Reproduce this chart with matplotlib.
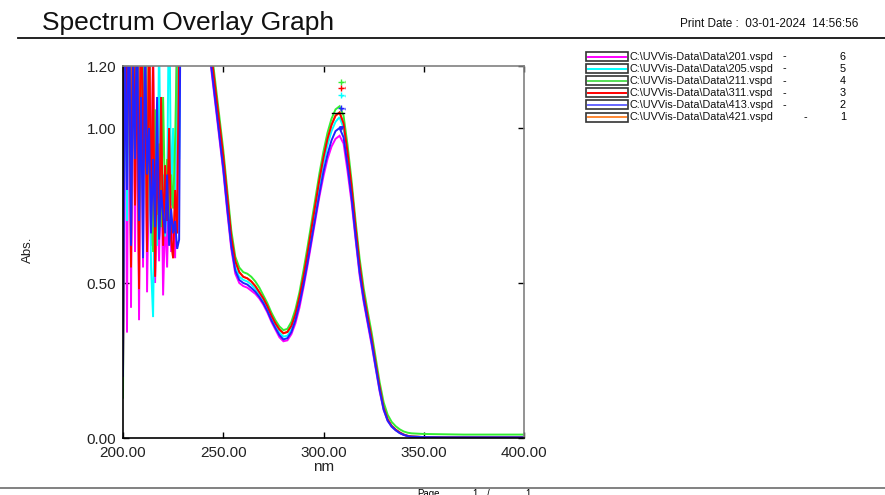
import matplotlib
matplotlib.use("Agg")
import matplotlib.pyplot as plt
from matplotlib.patches import Rectangle

plt.rcParams['font.family'] = ['Liberation Sans', 'DejaVu Sans']

# wavelength grid (nm)
wl = ([200, 201, 202, 203, 204, 205, 206, 207, 208, 209, 210, 211, 212, 213, 214,
       215, 216, 217, 218, 219, 220, 221, 222, 223, 224, 225, 226, 227, 228, 229]
      + [240, 242, 244, 246, 248, 250, 252, 254, 256, 258, 260, 262, 264, 266, 268,
         270, 272, 274, 276, 278, 280, 282, 284, 286, 288, 290, 292, 294, 296, 298,
         300, 302, 304, 306, 308, 310, 312, 314, 316, 318, 320, 322, 324, 326, 328,
         330, 332, 334, 336, 338, 340, 342, 344]
      + [350, 360, 370, 380, 390, 400])

# --- series (Abs) ---
s201 = ([0.90, 1.50, 0.34, 1.60, 0.42, 1.40, 0.60, 1.30, 0.38, 1.25, 0.55, 1.50, 0.47, 0.90, 0.62,
         1.30, 0.50, 0.80, 0.57, 1.00, 0.46, 0.72, 0.55, 0.85, 0.60, 0.70, 0.58, 1.40, 1.80, 2.00]
        + [1.42, 1.30, 1.19, 1.08, 0.97, 0.86, 0.73, 0.61, 0.53, 0.50, 0.49, 0.485, 0.475, 0.465, 0.45,
           0.43, 0.405, 0.375, 0.35, 0.325, 0.312, 0.315, 0.335, 0.37, 0.42, 0.485, 0.555, 0.63, 0.705, 0.78,
           0.845, 0.90, 0.94, 0.965, 0.975, 0.95, 0.86, 0.76, 0.64, 0.525, 0.44, 0.37, 0.30, 0.225, 0.15,
           0.09, 0.055, 0.036, 0.025, 0.016, 0.010, 0.006, 0.004]
        + [0.003, 0.002, 0.002, 0.002, 0.002, 0.002])

s205 = ([0.54, 1.40, 0.70, 1.50, 0.65, 1.30, 0.80, 1.60, 0.60, 1.20, 0.75, 1.40, 0.66, 1.10, 0.55,
         0.39, 0.90, 0.62, 1.30, 0.70, 0.85, 0.65, 0.78, 1.50, 0.75, 1.00, 0.80, 1.20, 0.90, 1.60]
        + [1.47, 1.35, 1.22, 1.11, 1.00, 0.89, 0.76, 0.63, 0.55, 0.52, 0.51, 0.505, 0.495, 0.48, 0.46,
           0.44, 0.415, 0.385, 0.36, 0.34, 0.327, 0.33, 0.35, 0.39, 0.445, 0.51, 0.58, 0.66, 0.74, 0.815,
           0.885, 0.945, 0.99, 1.02, 1.035, 1.00, 0.90, 0.79, 0.665, 0.545, 0.455, 0.385, 0.315, 0.235, 0.16,
           0.095, 0.058, 0.038, 0.026, 0.017, 0.011, 0.007, 0.005]
        + [0.003, 0.002, 0.002, 0.002, 0.002, 0.002])

s211 = ([0.13, 1.40, 0.85, 1.60, 0.70, 1.30, 0.95, 1.50, 0.75, 1.20, 0.88, 1.40, 0.66, 1.30, 0.80,
         0.60, 1.06, 0.72, 0.95, 0.68, 1.10, 0.75, 0.90, 0.70, 0.85, 0.74, 0.96, 1.30, 1.60, 2.00]
        + [1.52, 1.39, 1.26, 1.15, 1.04, 0.93, 0.80, 0.67, 0.585, 0.55, 0.535, 0.53, 0.52, 0.505, 0.485,
           0.46, 0.435, 0.405, 0.38, 0.36, 0.348, 0.352, 0.375, 0.415, 0.47, 0.54, 0.615, 0.695, 0.775, 0.855,
           0.925, 0.985, 1.03, 1.06, 1.07, 1.04, 0.945, 0.83, 0.70, 0.58, 0.485, 0.41, 0.34, 0.26, 0.18,
           0.115, 0.075, 0.052, 0.038, 0.028, 0.021, 0.017, 0.015]
        + [0.013, 0.012, 0.011, 0.011, 0.011, 0.011])

s311 = ([0.20, 1.60, 0.90, 1.40, 0.55, 1.50, 0.75, 1.30, 0.48, 1.60, 0.85, 1.20, 0.60, 1.40, 0.70,
         1.20, 0.52, 0.95, 0.65, 1.10, 0.62, 0.88, 0.70, 1.00, 0.64, 0.58, 0.80, 0.66, 1.30, 1.80]
        + [1.49, 1.37, 1.24, 1.13, 1.02, 0.91, 0.78, 0.65, 0.57, 0.535, 0.52, 0.515, 0.505, 0.49, 0.47,
           0.45, 0.425, 0.395, 0.37, 0.35, 0.338, 0.342, 0.362, 0.40, 0.455, 0.52, 0.595, 0.675, 0.755, 0.835,
           0.905, 0.965, 1.01, 1.04, 1.05, 1.015, 0.92, 0.81, 0.68, 0.56, 0.465, 0.393, 0.322, 0.242, 0.165,
           0.098, 0.060, 0.039, 0.027, 0.018, 0.011, 0.007, 0.005]
        + [0.003, 0.002, 0.002, 0.002, 0.002, 0.002])

s413 = ([0.20, 1.30, 0.80, 1.50, 0.62, 1.20, 0.90, 1.40, 0.70, 1.10, 0.58, 1.30, 0.85, 1.00, 0.66,
         0.90, 0.68, 1.10, 0.64, 0.80, 0.72, 0.66, 0.85, 0.62, 0.74, 0.66, 0.70, 0.61, 0.64, 1.80]
        + [1.44, 1.32, 1.20, 1.09, 0.98, 0.87, 0.74, 0.62, 0.54, 0.51, 0.50, 0.495, 0.484, 0.472, 0.455,
           0.435, 0.41, 0.38, 0.355, 0.332, 0.318, 0.322, 0.342, 0.38, 0.432, 0.495, 0.565, 0.64, 0.715, 0.79,
           0.86, 0.915, 0.96, 0.99, 1.00, 0.97, 0.88, 0.775, 0.65, 0.535, 0.448, 0.377, 0.308, 0.23, 0.155,
           0.092, 0.056, 0.037, 0.025, 0.016, 0.010, 0.006, 0.004]
        + [0.003, 0.002, 0.002, 0.002, 0.002, 0.002])

s421 = list(s311)

files = ["C:\\UVVis-Data\\Data\\201.vspd", "C:\\UVVis-Data\\Data\\205.vspd",
         "C:\\UVVis-Data\\Data\\211.vspd", "C:\\UVVis-Data\\Data\\311.vspd",
         "C:\\UVVis-Data\\Data\\413.vspd", "C:\\UVVis-Data\\Data\\421.vspd"]
numbers = ["6", "5", "4", "3", "2", "1"]
colors = ["#FF00FF", "#00FFFF", "#33EE33", "#FF0000", "#2222FF", "#FF8C1A"]
legend_colors = ["#FF00FF", "#00FFFF", "#55DD55", "#FF0000", "#6666FF", "#FF8833"]
series = [s201, s205, s211, s311, s413, s421]

# peak-pick labels
peak_nm = [308.5, 308.5, 308.5, 308.5]
peak_lab = [1.15, 1.13, 1.105, 1.065]
peak_col = ["#33EE33", "#FF0000", "#00FFFF", "#2222FF"]

W, H = 885, 495
fig = plt.figure(figsize=(W / 100, H / 100), dpi=100)
ax = fig.add_axes([123 / W, 1 - 438 / H, (524 - 123) / W, (438 - 66) / H])

order = [5, 0, 1, 2, 3, 4]
for i in order:
    ax.plot(wl, series[i], color=colors[i], lw=1.4, solid_joinstyle='miter')

for x, y, c in zip(peak_nm, peak_lab, peak_col):
    ax.plot([x], [y], marker='+', color=c, ms=4.5, mew=1.0)
    ax.text(x + 1.0, y, "1", color=c, fontsize=4.5, rotation=90, va='center', ha='left')
ax.plot([304, 310], [1.048, 1.048], color='black', lw=1.0)
ax.plot([308.5], [1.0], marker='v', color='#2222FF', ms=2.5)

ax.set_xlim(200, 400)
ax.set_ylim(0, 1.2)
ax.set_xticks([200, 250, 300, 350, 400])
ax.set_xticklabels(["200.00", "250.00", "300.00", "350.00", "400.00"])
ax.set_yticks([0, 0.5, 1.0, 1.2])
ax.set_yticklabels(["0.00", "0.50", "1.00", "1.20"])
ax.tick_params(direction='in', length=4, width=1, labelsize=11, colors='black',
               top=True, right=True, labelcolor='#222222')
ax.tick_params(axis='x', pad=6)
ax.tick_params(axis='y', pad=5)
for s in ['left', 'bottom']:
    ax.spines[s].set_color('black')
    ax.spines[s].set_linewidth(1.2)
for s in ['top', 'right']:
    ax.spines[s].set_color('#808080')
    ax.spines[s].set_linewidth(1.2)
ax.set_xlabel("nm", fontsize=11, labelpad=0, color='#222222')

# overlay in pixel coordinates
ov = fig.add_axes([0, 0, 1, 1], zorder=-1)
ov.set_xlim(0, W)
ov.set_ylim(H, 0)
ov.axis('off')

ov.text(42, 30, "Spectrum Overlay Graph", fontsize=19, va='baseline', ha='left', color='#111111')
ov.text(680, 27, "Print Date :  03-01-2024  14:56:56", fontsize=8.5, va='baseline', ha='left', color='#111111')
ov.plot([18, 885], [37.5, 37.5], color='#111111', lw=1.3)
ov.plot([0, 885], [487.5, 487.5], color='#777777', lw=1.3)
ov.text(417, 489, "Page", fontsize=7, va='top', ha='left')
ov.text(472, 489, "1", fontsize=7, va='top', ha='left')
ov.text(487, 489, "/", fontsize=7, va='top', ha='left')
ov.text(525, 489, "1", fontsize=7, va='top', ha='left')
ov.text(28, 250, "Abs.", fontsize=9.5, rotation=90, va='center', ha='center', color='#222222')

for i in range(6):
    yc = 56.5 + i * 12.1
    ov.add_patch(Rectangle((586, yc - 4.5), 42, 9, fill=False, edgecolor='#333333', lw=1.2))
    ov.plot([588, 626], [yc, yc], color=legend_colors[i], lw=1.4)
    ov.text(629, yc, files[i], fontsize=7.8, va='center', ha='left', color='#111111')
    ov.text(804 if i == 5 else 783, yc, "-", fontsize=7.8, va='center', ha='left')
    ov.text(843, yc, numbers[i], fontsize=7.8, va='center', ha='center')

fig.savefig("out.png", dpi=100)
